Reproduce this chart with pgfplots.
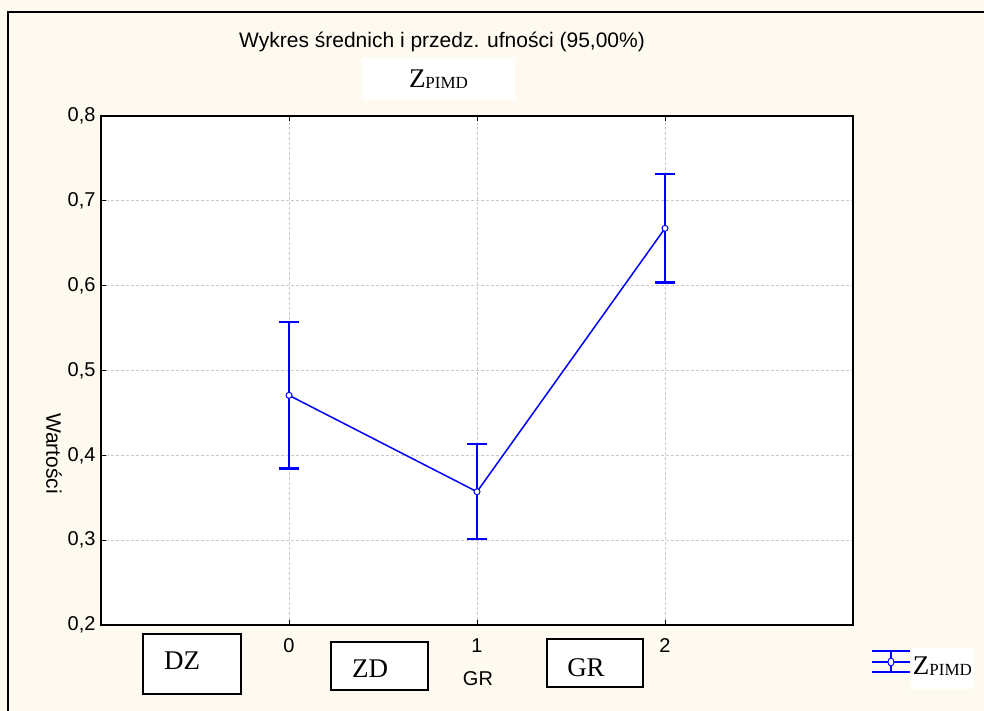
\documentclass[border=0pt]{standalone}
\usepackage{pgfplots}
\pgfplotsset{compat=1.18}
\usepackage{fontspec}
\setmainfont{Liberation Sans}
\newfontfamily\tnr{Liberation Serif}
\definecolor{bgcream}{RGB}{255,250,240}
\definecolor{gridgray}{RGB}{200,200,200}
\newcommand{\fs}[1]{\fontsize{#1}{#1}\selectfont}
\newcommand{\zpimd}{{\tnr\fs{27}Z\raisebox{-1pt}{\fs{17}PIMD}}}

\begin{document}
\begin{tikzpicture}[x=1pt,y=1pt]
\useasboundingbox (0,0) rectangle (984,711);
\fill[bgcream] (0,0) rectangle (984,711);
\draw[line width=2pt] (8,-5) -- (8,699) -- (990,699);

\begin{axis}[
  at={(101pt,86pt)}, anchor=south west,
  scale only axis, width=752pt, height=509pt,
  xmin=-1, xmax=3, ymin=0.2, ymax=0.8,
  xtick={0,1,2}, xticklabels={0,1,2},
  ytick={0.2,0.3,0.4,0.5,0.6,0.7,0.8},
  yticklabels={{0,2},{0,3},{0,4},{0,5},{0,6},{0,7},{0,8}},
  axis background/.style={fill=white},
  axis line style={line width=2.5pt, black},
  tick align=inside, major tick length=5pt,
  tick style={black, line width=1pt},
  xtick pos=both, ytick pos=left,
  grid=major,
  major grid style={gridgray, dash pattern=on 3pt off 2pt, line width=0.8pt},
  tick label style={font=\fs{20}},
  xticklabel style={yshift=-10pt},
  yticklabel style={xshift=-2pt},
  title={Wykres średnich i przedz. ufności (95,00\%)},
  every axis title/.style={at={(axis description cs:0.4535,1.1454)}, anchor=center, font=\fs{21}},
  xlabel={GR},
  every axis x label/.style={at={(axis description cs:0.5013,-0.1051)}, anchor=center, font=\fs{20}},
  ylabel={Wartości},
  every axis y label/.style={at={(axis description cs:-0.0625,0.337)}, rotate=-90, anchor=center, font=\fs{21}},
  legend style={at={(axis description cs:1.0239,-0.0727)}, anchor=west, draw=none, fill=none,
    inner sep=0pt, outer sep=0pt, nodes={inner sep=0pt},
    /tikz/every even column/.append style={column sep=0pt}},
  legend image code/.code={
    \draw[blue, line width=2pt] (0pt,11pt) -- (38pt,11pt) (0pt,0pt) -- (38pt,0pt)
      (0pt,-10pt) -- (38pt,-10pt) (19pt,11pt) -- (19pt,-10pt);
    \draw[blue, fill=white, line width=1pt] (19pt,0pt) ellipse (3pt and 4pt);
  },
]
\addplot[blue, line width=1.5pt, mark=*, mark size=3pt,
  mark options={fill=white, draw=blue, line width=1pt},
  error bars/.cd, y dir=both, y explicit,
  error bar style={line width=2.5pt, blue},
  error mark options={rotate=90, blue, line width=2.5pt, mark size=10pt}]
  coordinates {
    (0,0.4707) +- (0,0.0865)
    (1,0.3571) +- (0,0.0560)
    (2,0.6676) +- (0,0.0640)
  };
\addlegendentry{\setlength{\fboxsep}{2pt}\colorbox{white}{\rule[-13pt]{0pt}{37pt}\zpimd}}
\end{axis}

\node[fill=white, minimum width=153pt, minimum height=42pt, inner sep=0pt] at (438.5,632) {\zpimd};

\draw[line width=2pt, fill=white] (143,17) rectangle (241,77);
\node[inner sep=0pt] at (182,50) {\tnr\fs{27}DZ};
\draw[line width=2pt, fill=white] (331,21) rectangle (428,69);
\node[inner sep=0pt] at (370,42) {\tnr\fs{27}ZD};
\draw[line width=2pt, fill=white] (547,24) rectangle (643,72);
\node[inner sep=0pt] at (586,43) {\tnr\fs{27}GR};
\end{tikzpicture}
\end{document}
